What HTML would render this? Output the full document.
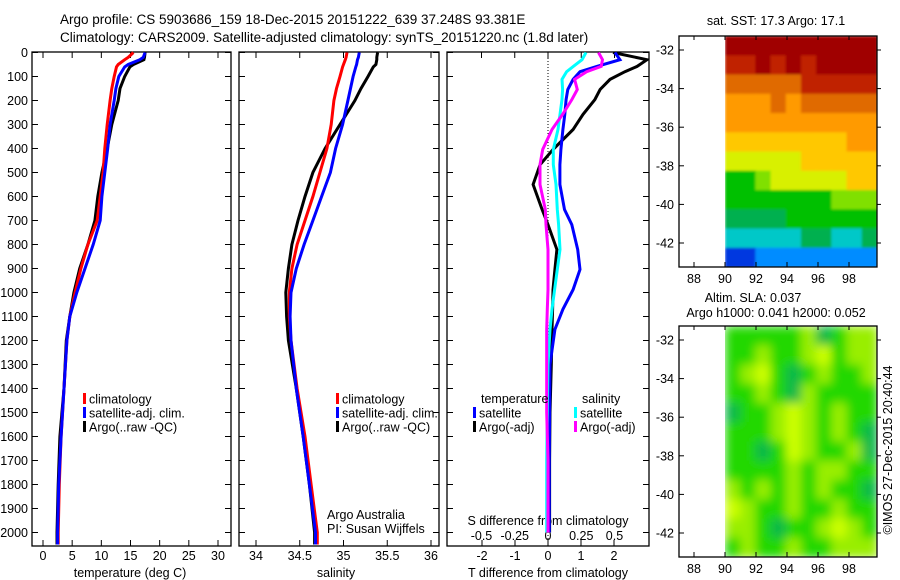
<!DOCTYPE html>
<html><head><meta charset="utf-8"><style>
html,body{margin:0;padding:0;background:#fff;}
svg{display:block;font-family:"Liberation Sans",sans-serif;}
</style></head><body>
<svg id="fig" width="900" height="580" viewBox="0 0 900 580">
<text x="60" y="24" font-size="13.5">Argo profile: CS 5903686_159 18-Dec-2015 20151222_639 37.248S 93.381E</text>
<text x="60" y="42" font-size="13.5">Climatology: CARS2009. Satellite-adjusted climatology: synTS_20151220.nc (1.8d later)</text>
</svg>
<script>
// ---------- data ----------
const depthTicks=[0,100,200,300,400,500,600,700,800,900,1000,1100,1200,1300,1400,1500,1600,1700,1800,1900,2000];
const tempTicks=[0,5,10,15,20,25,30];
const salTicks=[34,34.5,35,35.5,36];
const tdiffTicks=[-2,-1,0,1,2];
const sdiffTicks=[-0.5,-0.25,0,0.25,0.5];
const sdiffTickLabels=["-0.5","-0.25","0","0.25","0.5"];
const latTicks=[-32,-34,-36,-38,-40,-42];
const lonTicks=[88,90,92,94,96,98];

const profDepth=[0,20,30,50,60,100,150,200,300,400,500,600,700,800,900,1000,1100,1200,1400,1600,1800,2000,2050];
const tempClim=[15.5,14.6,14.0,12.9,12.6,12.2,11.8,11.5,11.0,10.6,10.3,9.8,9.3,7.7,6.5,5.5,4.6,4.1,3.6,3.1,2.8,2.6,2.6];
const tempSat=[17.5,17.2,16.6,14.6,14.0,13.0,12.5,12.2,11.5,11.1,10.6,10.1,9.8,8.6,7.2,5.8,4.6,4.1,3.6,3.1,2.7,2.5,2.5];
const tempArgo=[17.5,17.4,17.3,15.5,14.9,14.0,13.2,12.9,11.8,11.0,10.1,9.4,8.9,7.7,6.3,5.3,4.6,4.0,3.6,2.9,2.6,2.4,2.4];
const salClim=[35.04,35.03,35.02,35.0,34.99,34.96,34.92,34.89,34.86,34.81,34.73,34.65,34.56,34.47,34.41,34.38,34.38,34.40,34.47,34.56,34.63,34.70,34.70];
const salSat=[35.18,35.17,35.16,35.15,35.14,35.11,35.08,35.05,34.99,34.91,34.85,34.75,34.65,34.55,34.46,34.40,34.39,34.40,34.46,34.54,34.61,34.68,34.68];
const salArgo=[35.39,35.38,35.38,35.37,35.34,35.28,35.20,35.13,34.96,34.79,34.65,34.56,34.48,34.41,34.37,34.34,34.35,34.37,34.46,34.54,34.61,34.67,34.67];

const diffDepth=[0,30,58,80,112,154,196,258,321,404,467,550,654,717,821,904,988,1070,1154,1300,1500,1700,2000];
const tdiffArgo=[1.97,3.0,2.7,2.33,1.88,1.58,1.42,1.06,0.76,0.15,-0.24,-0.45,-0.18,0.0,0.27,0.21,0.15,0.14,0.12,0.10,0.06,0.05,0.05];
const tdiffSat=[2.03,2.18,1.48,0.97,0.76,0.6,0.55,0.51,0.45,0.39,0.36,0.36,0.5,0.72,0.9,0.97,0.76,0.45,0.21,0.06,0.05,0.04,0.04];
const sdiffSat=[0.286,0.256,0.19,0.14,0.105,0.11,0.105,0.09,0.075,0.04,0.04,0.06,0.07,0.08,0.09,0.07,0.05,0.03,0.015,0.0,-0.005,-0.01,-0.01];
const sdiffArgo=[0.38,0.41,0.40,0.29,0.2,0.22,0.18,0.11,0.03,-0.04,-0.06,-0.06,-0.02,-0.015,0.0,0.0,0.0,-0.005,-0.01,-0.01,-0.01,0.0,0.0];

const sstPalette=["#00007f","#0038e0","#008cff","#00c8c8","#00b050","#00c000","#80e000","#d8f000","#ffc800","#ff9a00","#e06a00","#c02000","#a00000"];
const sstGrid=[
[12,12,12,12,12,12,12,12,12,12],
[11,11,12,11,12,11,12,12,12,12],
[10,10,10,10,10,11,11,11,11,11],
[9,9,9,10,9,10,10,10,10,10],
[9,9,9,9,9,9,9,9,9,9],
[8,8,8,8,8,8,8,8,9,9],
[7,7,7,7,7,8,8,8,8,8],
[5,5,6,7,7,7,7,7,8,8],
[5,5,5,5,5,5,5,6,6,6],
[4,4,4,4,5,5,5,5,5,5],
[3,3,3,3,3,4,4,3,3,4],
[1,1,2,2,2,2,2,2,2,2]];
const slaPalette=["#10b848","#22d800","#99ee00","#ccff00"];
const slaGrid=[
[1,1,1,1,1,2,0,1,2,2],
[1,1,2,1,1,2,3,1,2,2],
[1,2,3,1,0,1,2,1,1,2],
[1,1,2,1,0,2,1,1,1,1],
[0,1,1,2,3,2,1,2,1,1],
[1,1,1,2,3,2,1,2,1,0],
[1,1,0,1,3,2,1,1,2,0],
[1,1,1,1,2,1,2,2,1,1],
[2,1,2,1,2,1,2,1,1,0],
[3,2,1,1,2,1,1,2,1,1],
[2,2,1,0,1,1,2,3,2,1],
[1,2,1,1,2,1,1,2,2,2]];

// ---------- helpers ----------
const NS="http://www.w3.org/2000/svg";
const svg=document.getElementById('fig');
function el(tag,attrs,parent,text){const e=document.createElementNS(NS,tag);for(const k in attrs)e.setAttribute(k,attrs[k]);if(text!==undefined)e.textContent=text;(parent||svg).appendChild(e);return e;}
const yD=d=>52.5+d*0.24;
const TOP=52,BOT=546;
const xT=t=>43+t*5.833;
const xS=s=>256+(s-34)*87.5;
const xTd=t=>548+t*33;
const xSd=s=>548+s*133;

function panel(x0,x1,name){
  const g=el('g',{});
  
  
  el('rect',{x:x0,y:TOP,width:x1-x0,height:BOT-TOP,fill:'none',stroke:'#000','stroke-width':1.3},g);
  depthTicks.forEach(d=>{el('line',{x1:x0,x2:x0+6,y1:yD(d),y2:yD(d),stroke:'#000'},g);el('line',{x1:x1-6,x2:x1,y1:yD(d),y2:yD(d),stroke:'#000'},g);});
  return g;
}
function line(xs,ys,color,g,name,w){
  let p='';xs.forEach((x,i)=>{p+=(i?'L':'M')+x.toFixed(1)+' '+ys[i].toFixed(1);});
  const e=el('path',{d:p,fill:'none',stroke:color,'stroke-width':w||3,'stroke-linejoin':'miter'},g);
  
  
  return e;
}
function legend(g,x,y,color,label,name){
  const r=el('rect',{x:x,y:y-6,width:3,height:11,fill:color},g);
  
  
  const t=el('text',{x:x+6,y:y+4.5,'font-size':12.5},g,label);
  
  
}

// ---------- panel 1: temperature ----------
const p1=panel(32,231,'temperature-panel');
depthTicks.forEach(d=>{const t=el('text',{x:28,y:yD(d)+4.5,'text-anchor':'end','font-size':12.5},p1,String(d));});
tempTicks.forEach(v=>{el('line',{x1:xT(v),x2:xT(v),y1:TOP,y2:TOP+6,stroke:'#000'},p1);el('line',{x1:xT(v),x2:xT(v),y1:BOT-6,y2:BOT,stroke:'#000'},p1);
  const t=el('text',{x:xT(v),y:560,'text-anchor':'middle','font-size':12.5},p1,String(v));});
{const t=el('text',{x:130,y:577,'text-anchor':'middle','font-size':12.5},p1,'temperature (deg C)');}
const yP=profDepth.map(yD);
line(tempArgo.map(xT),yP,'#000',p1,'temperature-argo-line');
line(tempClim.map(xT),yP,'#f00',p1,'temperature-climatology-line');
line(tempSat.map(xT),yP,'#00f',p1,'temperature-satellite-line');
legend(p1,83,399,'#f00','climatology','legend-climatology');
legend(p1,83,413,'#00f','satellite-adj. clim.','legend-satellite-adj');
legend(p1,83,427,'#000','Argo(..raw -QC)','legend-argo');

// ---------- panel 2: salinity ----------
const p2=panel(239,439,'salinity-panel');
salTicks.forEach(v=>{el('line',{x1:xS(v),x2:xS(v),y1:TOP,y2:TOP+6,stroke:'#000'},p2);el('line',{x1:xS(v),x2:xS(v),y1:BOT-6,y2:BOT,stroke:'#000'},p2);
  const t=el('text',{x:xS(v),y:560,'text-anchor':'middle','font-size':12.5},p2,String(v));});
{const t=el('text',{x:336,y:577,'text-anchor':'middle','font-size':12.5},p2,'salinity');}
line(salArgo.map(xS),yP,'#000',p2,'salinity-argo-line');
line(salClim.map(xS),yP,'#f00',p2,'salinity-climatology-line');
line(salSat.map(xS),yP,'#00f',p2,'salinity-satellite-line');
legend(p2,336,399,'#f00','climatology','legend-climatology');
legend(p2,336,413,'#00f','satellite-adj. clim.','legend-satellite-adj');
legend(p2,336,427,'#000','Argo(..raw -QC)','legend-argo');
{const t=el('text',{x:327,y:519,'font-size':12.5},p2,'Argo Australia');
 const u=el('text',{x:327,y:533,'font-size':12.5},p2,'PI: Susan Wijffels');}

// ---------- panel 3: differences ----------
const p3=panel(447,649,'difference-panel');
sdiffTicks.forEach(v=>{el('line',{x1:xSd(v),x2:xSd(v),y1:TOP,y2:TOP+6,stroke:'#000'},p3);});
tdiffTicks.forEach(v=>{el('line',{x1:xTd(v),x2:xTd(v),y1:BOT-6,y2:BOT,stroke:'#000'},p3);
  const t=el('text',{x:xTd(v),y:560,'text-anchor':'middle','font-size':12.5},p3,String(v));});
sdiffTicks.forEach((v,i)=>{const t=el('text',{x:xSd(v),y:540,'text-anchor':'middle','font-size':12.5},p3,sdiffTickLabels[i]);});
{const t=el('text',{x:548,y:525,'text-anchor':'middle','font-size':12.5},p3,'S difference from climatology');
 const u=el('text',{x:548,y:577,'text-anchor':'middle','font-size':12.5},p3,'T difference from climatology');}
el('line',{x1:xTd(0),x2:xTd(0),y1:TOP,y2:BOT,stroke:'#000','stroke-dasharray':'1,2'},p3);
const clip=el('clipPath',{id:'c3'},p3);el('rect',{x:447,y:TOP,width:202,height:BOT-TOP},clip);
const g3=el('g',{'clip-path':'url(#c3)'},p3);
const yDd=diffDepth.map(yD);
line(tdiffArgo.map(xTd),yDd,'#000',g3,'t-diff-argo-line');
line(tdiffSat.map(xTd),yDd,'#00f',g3,'t-diff-satellite-line');
line(sdiffSat.map(xSd),yDd,'#0ff',g3,'s-diff-satellite-line');
line(sdiffArgo.map(xSd),yDd,'#f0f',g3,'s-diff-argo-line');
{const t=el('text',{x:481,y:403,'font-size':12.5},p3,'temperature');
 const u=el('text',{x:582,y:403,'font-size':12.5},p3,'salinity');}
legend(p3,473,413,'#00f','satellite','legend-t-satellite');
legend(p3,473,427,'#000','Argo(-adj)','legend-t-argo');
legend(p3,574,413,'#0ff','satellite','legend-s-satellite');
legend(p3,574,427,'#f0f','Argo(-adj)','legend-s-argo');

// ---------- maps ----------
const defs=el('defs',{});
const f=el('filter',{id:'bl',x:'-10%',y:'-10%',width:'120%',height:'120%'},defs);
el('feGaussianBlur',{stdDeviation:5,edgeMode:'duplicate'},f);
const f2=el('filter',{id:'bl2',x:'-5%',y:'-5%',width:'110%',height:'110%'},defs);
el('feGaussianBlur',{stdDeviation:1.2,edgeMode:'duplicate'},f2);

function map(y0,y1,latPx0,grid,pal,name,filt){
  const lx=lon=>694+(lon-88)*15.5;
  const ly=lat=>latPx0+(-32-lat)*19.3;
  const g=el('g',{});
  
  
  const id='cm'+y0;
  const cp=el('clipPath',{id:id},g);el('rect',{x:lx(90),y:y0,width:877-lx(90),height:y1-y0},cp);
  const inner=el('g',{'clip-path':'url(#'+id+')'},g);
  const cg=el('g',{filter:'url(#'+filt+')'},inner);
  const latTop=-32+(latPx0-y0)/19.3;
  const nR=grid.length,nC=grid[0].length;
  const dLat=(latTop-(-32-(y1-latPx0)/19.3))/nR, dLon=(99.8-90)/nC;
  grid.forEach((row,r)=>row.forEach((v,c)=>{
    const x=lx(90+c*dLon),y=ly(latTop-r*dLat);
    const cell=el('rect',{x:x,y:y,width:15.5*dLon+1,height:19.3*dLat+1,fill:pal[v]},cg);
    
    
  }));
  el('rect',{x:679,y:y0,width:198,height:y1-y0,fill:'none',stroke:'#000','stroke-width':1.3},g);
  latTicks.forEach(l=>{el('line',{x1:679,x2:684,y1:ly(l),y2:ly(l),stroke:'#000'},g);el('line',{x1:877,x2:881,y1:ly(l),y2:ly(l),stroke:'#000'},g);
    const t=el('text',{x:674,y:ly(l)+4.5,'text-anchor':'end','font-size':12.5},g,String(l));});
  lonTicks.forEach(l=>{el('line',{x1:lx(l),x2:lx(l),y1:y1-5,y2:y1,stroke:'#000'},g);el('line',{x1:lx(l),x2:lx(l),y1:y0,y2:y0+4,stroke:'#000'},g);
    const t=el('text',{x:lx(l),y:y1+16,'text-anchor':'middle','font-size':12.5},g,String(l));});
}
map(36,267,50,sstGrid,sstPalette,'sst-map','bl2');
map(326,557,340,slaGrid,slaPalette,'sla-map','bl');
{const t=el('text',{x:776,y:25,'text-anchor':'middle','font-size':12.5});t.textContent='sat. SST: 17.3 Argo: 17.1';
 const a=el('text',{x:753,y:302,'text-anchor':'middle','font-size':12.5});a.textContent='Altim. SLA: 0.037';
 const b=el('text',{x:776,y:317,'text-anchor':'middle','font-size':12.5});b.textContent='Argo h1000: 0.041 h2000: 0.052';
 const c=el('text',{x:0,y:0,'text-anchor':'middle','font-size':12.5,transform:'translate(892,450) rotate(-90)'});c.textContent='©IMOS 27-Dec-2015 20:40:44';}
</script>
</body></html>
